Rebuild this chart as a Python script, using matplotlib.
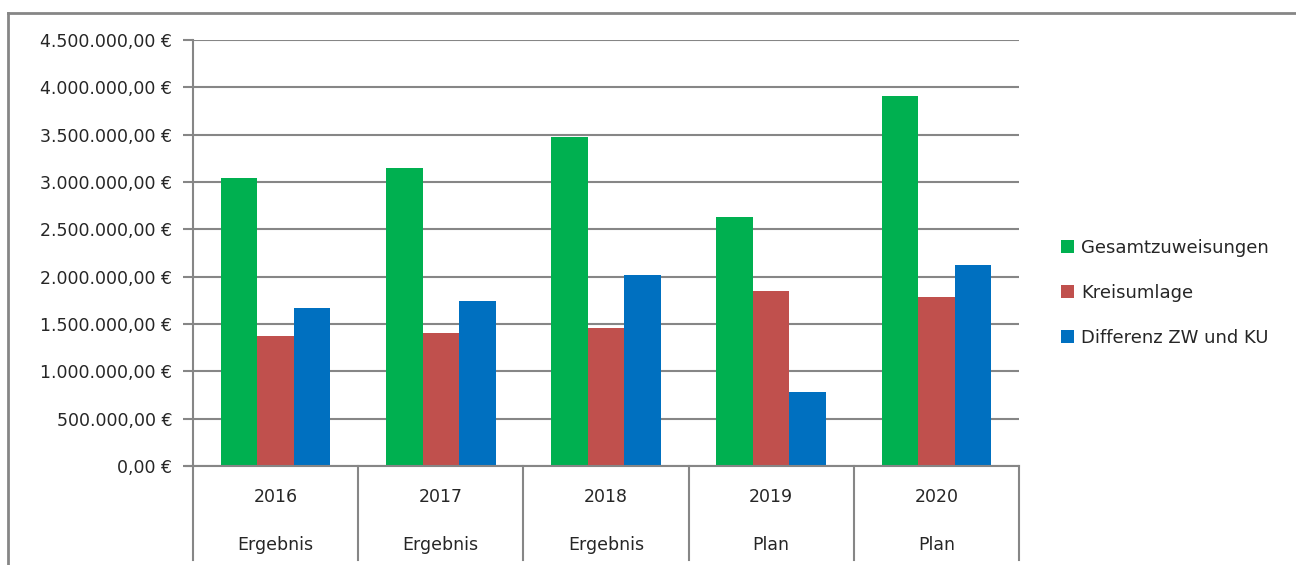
import numpy as np
import matplotlib.pyplot as plt
from matplotlib.lines import Line2D
from matplotlib.ticker import FuncFormatter, MultipleLocator

# data
years = ["2016", "2017", "2018", "2019", "2020"]
kind = ["Ergebnis", "Ergebnis", "Ergebnis", "Plan", "Plan"]
gesamt = [3042000, 3145000, 3479000, 2634000, 3908000]
kreisumlage = [1373000, 1405000, 1458000, 1849000, 1785000]
differenz = [1669000, 1740000, 2021000, 785000, 2123000]

series = [("Gesamtzuweisungen", gesamt, "#00B050"),
          ("Kreisumlage", kreisumlage, "#C0504D"),
          ("Differenz ZW und KU", differenz, "#0070C0")]

plt.rcParams['font.family'] = ['DejaVu Sans']
grey = "#868686"
txt = "#262626"
fs = 12.5

fig = plt.figure(figsize=(12.96, 5.65), dpi=100)
ax = fig.add_axes([193 / 1296, 1 - 466 / 565, 826 / 1296, 426 / 565])

x = np.arange(len(years))
w = 0.221
for i, (name, vals, col) in enumerate(series):
    ax.bar(x + (i - 1) * w, vals, width=w, color=col, label=name, zorder=3)

ax.set_xlim(-0.5, len(years) - 0.5)
ax.set_ylim(0, 4500000)
ax.yaxis.set_major_locator(MultipleLocator(500000))


def de_euro(v, pos):
    s = f"{v:,.2f}".replace(",", "X").replace(".", ",").replace("X", ".")
    return s + " €"


ax.yaxis.set_major_formatter(FuncFormatter(de_euro))
ax.grid(axis="y", color=grey, linewidth=1.5, zorder=0)
ax.tick_params(axis="y", length=7, width=1.5, color=grey, pad=8, labelsize=fs,
               labelcolor=txt)
ax.set_xticks([])
for s in ["top", "right", "bottom"]:
    ax.spines[s].set_visible(False)
ax.spines["left"].set_color(grey)
ax.spines["left"].set_linewidth(1.5)

# multi-level category axis
tr = ax.get_xaxis_transform()
ax.plot([-0.5 - 0.045, len(years) - 0.5], [0, 0], transform=tr, color=grey,
        lw=1.5, clip_on=False, zorder=4)
for b in np.arange(len(years) + 1) - 0.5:
    ax.plot([b, b], [0, -0.22], transform=tr, color=grey, lw=1.5, clip_on=False)
for i in range(len(years)):
    ax.text(i, -0.073, years[i], transform=tr, ha="center", va="center",
            fontsize=fs, color=txt)
    ax.text(i, -0.185, kind[i], transform=tr, ha="center", va="center",
            fontsize=fs, color=txt)

fig.legend(loc="center left", bbox_to_anchor=(1045 / 1296, 1 - 293 / 565),
           frameon=False, fontsize=13, handlelength=0.7, handleheight=0.7,
           handletextpad=0.4, labelspacing=1.5, labelcolor=txt)

# chart frame (cut at right and bottom)
fig.add_artist(Line2D([8 / 1296, 1], [1 - 13 / 565, 1 - 13 / 565], color=grey, lw=2))
fig.add_artist(Line2D([8 / 1296, 8 / 1296], [0, 1 - 13 / 565], color=grey, lw=2))

fig.savefig("out.png", dpi=100)
